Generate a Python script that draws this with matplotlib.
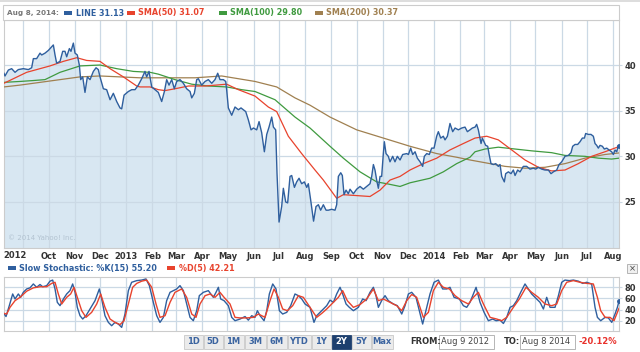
import numpy as np
import matplotlib
matplotlib.use("Agg")
import matplotlib.pyplot as plt
import matplotlib.dates as mdates
from matplotlib.patches import Rectangle
import datetime as dt

# ---------------- data ----------------
start_date = "2012-08-09"
end_date = "2014-08-08"

price_days = [0, 1.3, 5.3, 9.2, 13.2, 17.1, 23.0, 29.0, 32.9, 34.9, 38.8, 42.8, 44.8, 48.7, 52.7, 56.6,
              58.6, 60.6, 62.5, 66.5, 69.7, 72.4, 74.4, 77.6, 79.5, 82.3, 84.3, 87.0, 89.4, 91.0, 93.4,
              96.1, 98.9, 102.1, 106.0, 109.2, 111.9, 113.9, 117.9, 121.8, 125.8, 129.7, 133.7, 137.6,
              139.6, 142.4, 147.5, 151.5, 155.4, 159.3, 163.3, 167.2, 169.2, 172.0, 175.2, 179.1,
              183.0, 187.0, 190.2, 192.9, 195.7, 198.9, 202.0, 204.8, 208.7, 212.7, 216.6, 220.6, 222.6,
              225.7, 228.5, 230.5, 234.4, 238.4, 242.3, 246.3, 250.2, 253.4, 256.1, 260.1, 262.9, 264.0,
              266.0, 270.0, 273.9, 277.9, 281.0, 283.8, 286.6, 289.7, 292.9, 295.7, 299.6, 302.4, 305.5,
              308.7, 311.5, 314.2, 317.4, 319.4, 322.1, 323.7, 326.1, 329.2, 331.2, 334.0, 336.3, 339.1,
              341.1, 344.3, 347.0, 349.8, 352.9, 356.1, 358.9, 360.8, 363.6, 367.0, 369.9, 372.7, 375.4,
              378.6, 381.8, 384.5, 388.5, 392.4, 394.4, 396.4, 399.2, 401.1, 403.1, 405.5, 408.2, 410.2,
              414.2, 418.1, 422.1, 426.0, 430.0, 433.9, 435.9, 437.9, 439.8, 441.8, 443.8, 445.8, 447.7,
              449.7, 450.9, 452.9, 455.6, 457.6, 460.8, 463.5, 466.3, 469.5, 472.6, 477.4, 479.4, 482.1,
              484.5, 487.3, 490.0, 493.2, 496.3, 498.3, 501.1, 504.2, 507.0, 509.8, 512.9, 514.9, 517.7,
              520.8, 522.8, 525.6, 528.7, 531.9, 534.7, 538.6, 542.6, 546.5, 549.3, 552.4, 555.2, 558.4,
              560.3, 562.3, 564.3, 565.5, 567.0, 569.0, 571.0, 573.4, 574.9, 577.3, 580.1, 582.9, 586.0,
              588.0, 590.0, 593.1, 594.7, 597.9, 601.0, 603.8, 605.8, 608.9, 611.7, 615.6, 619.6, 623.5,
              627.5, 630.3, 633.4, 637.4, 641.3, 645.3, 648.4, 651.2, 655.2, 657.9, 661.1, 665.0, 669.0,
              672.1, 674.1, 676.9, 680.0, 682.8, 685.6, 688.0, 689.5, 692.7, 695.8, 698.6, 700.6, 702.6,
              704.5, 706.5, 709.3, 711.6, 714.4, 717.2, 720.3, 722.3, 724.3, 726.3, 728.2, 729.0]
price_vals = [39.1, 38.8, 39.45, 39.6, 39.2, 39.5, 39.6, 39.5, 39.7, 40.7, 40.7, 41.3, 41.1, 41.3, 41.6, 42.0,
              42.2, 41.1, 40.2, 40.4, 41.5, 41.5, 40.9, 41.8, 41.5, 42.4, 41.3, 41.1, 40.0, 38.4, 38.7,
              37.0, 38.7, 38.4, 39.3, 39.7, 39.5, 38.7, 37.4, 37.3, 36.2, 36.9, 36.0, 35.3,
              35.2, 36.7, 37.1, 37.3, 37.3, 37.8, 38.5, 39.3, 38.7, 39.3, 37.6, 37.3,
              37.0, 36.0, 37.1, 38.4, 37.8, 38.4, 37.4, 38.2, 38.4, 38.0, 37.4, 37.1, 36.4,
              36.9, 38.4, 38.5, 37.8, 38.2, 38.4, 38.0, 38.4, 39.1, 38.4, 38.4, 38.2, 37.3,
              35.3, 34.5, 35.4, 35.1, 35.3, 35.1, 34.9, 34.0, 32.9, 33.1, 32.9, 33.8, 32.6,
              30.5, 32.4, 33.2, 34.3, 33.2, 32.9, 28.1, 22.8, 24.5, 26.5, 25.0, 24.9, 27.8,
              27.9, 26.6, 27.2, 27.6, 27.0, 27.2, 26.6, 27.0, 25.2, 22.9, 24.5, 24.7, 24.1,
              24.7, 24.1, 24.1, 24.2, 24.1, 24.7, 27.8, 28.2, 27.9, 25.8, 26.3, 25.9, 26.4,
              25.9, 26.4, 26.7, 26.4, 26.7, 27.0, 27.8, 29.1, 28.5, 27.4, 26.5, 27.8, 27.8,
              30.3, 31.6, 30.3, 30.0, 29.4, 30.0, 29.4, 30.0, 29.6, 30.2, 30.3, 30.2, 30.9,
              30.2, 30.5, 29.8, 29.4, 28.9, 30.0, 30.3, 30.2, 30.9, 30.9, 32.2, 32.7, 32.0,
              32.2, 31.8, 32.2, 33.6, 32.7, 33.1, 32.9, 33.1, 33.2, 32.7, 32.9, 33.1, 33.2,
              33.5, 32.9, 32.0, 31.4, 32.0, 31.6, 31.2, 31.1, 30.3, 29.2, 29.1, 29.2, 28.9,
              29.1, 27.8, 27.2, 28.1, 28.3, 28.1, 28.5, 27.9, 28.5, 28.3, 28.9, 28.9, 28.6,
              28.7, 28.6, 28.8, 28.6, 28.5, 28.5, 28.1, 28.3, 28.5, 29.1, 29.4, 30.0, 30.1,
              30.4, 31.1, 31.3, 31.3, 31.6, 32.0, 32.0, 32.5, 32.4, 32.4, 32.2, 31.4, 31.2,
              30.9, 31.2, 31.1, 30.8, 30.9, 30.7, 30.5, 30.2, 30.7, 30.5, 31.2, 31.13]

sma50_days = [0, 11.2, 27, 38.8, 54.6, 70.5, 86.3, 98.1, 113.9, 125.8, 141.6, 157.4, 161.3, 173.2, 183,
              191, 202.8, 218.6, 238.4, 264, 277.9, 297.6, 313.4, 323.3, 337.1, 352.9, 368.7,
              378.6, 394.4, 402.3, 418.1, 433.9, 445.8, 457.6, 469.5, 481.3, 497.1, 513, 528.7, 544.5,
              558.4, 572.2, 586, 601.8, 617.6, 633.4, 649.2, 665, 680.8, 696.6, 712.4, 729]
sma50_vals = [38.0, 38.5, 39.2, 39.5, 39.9, 40.4, 40.8, 40.5, 40.4, 39.6, 38.7, 37.7, 37.6, 37.6, 37.3,
              37.2, 37.4, 37.7, 37.7, 37.9, 37.3, 36.6, 35.4, 34.9, 32.2, 30.3, 28.5,
              27.4, 25.4, 25.8, 25.7, 25.6, 26.3, 27.4, 27.8, 28.5, 29.2, 29.8, 30.7, 31.4,
              32.0, 32.2, 31.8, 30.7, 29.6, 28.8, 28.4, 28.5, 29.2, 30.0, 30.5, 31.07]

sma100_days = [0, 19.1, 34.9, 48.7, 66.5, 90.2, 113.9, 133.7, 153.4, 173.2, 183,
               202.8, 222.6, 242.3, 264, 281.8, 297.6, 321.3, 345, 362.8,
               386.5, 402.3, 422.1, 441.8, 453.7, 469.5, 481.3, 505, 520.8, 536.6, 552.4,
               558.4, 570.2, 586, 605.8, 625.5, 649.2, 665, 688.7, 704.5, 720.3, 729]
sma100_vals = [38.1, 38.2, 38.3, 38.4, 39.2, 39.9, 40.0, 39.6, 39.3, 39.2, 39.0,
               38.4, 37.9, 37.7, 37.6, 37.3, 37.1, 36.2, 34.3, 33.1,
               31.1, 29.8, 28.3, 27.2, 27.0, 26.7, 27.1, 27.6, 28.3, 29.2, 29.9,
               30.5, 30.8, 31.0, 30.8, 30.6, 30.4, 30.1, 30.0, 29.8, 29.7, 29.8]

sma200_days = [0, 19.1, 42.8, 66.5, 90.2, 113.9, 137.6, 161.3, 183, 202.8, 226.5, 258.1, 277.9, 297.6,
               323.3, 345, 362.8, 386.5, 418.1, 449.7, 481.3, 513, 536.6, 552.4, 570.2, 593.9, 617.6,
               641.3, 665, 688.7, 712.4, 729]
sma200_vals = [37.6, 37.8, 38.1, 38.4, 38.7, 38.8, 38.7, 38.6, 38.6, 38.6, 38.6, 38.8, 38.5, 38.2,
               37.6, 36.4, 35.6, 34.3, 32.9, 32.0, 31.1, 30.3, 29.9, 29.6, 29.3, 28.9, 28.7,
               28.8, 29.2, 29.8, 30.2, 30.37]

k_days = [0, 2.5, 6.4, 10.4, 13.2, 17.1, 19.9, 23.0, 27.0, 30.9, 34.9, 38.8, 42.8, 46.0, 50.7, 54.6,
          57.8, 60.6, 63.3, 66.5, 70.5, 74.4, 78.3, 81.5, 84.3, 87.0, 90.2, 93.4, 97.3, 102.1, 108.0,
          113.1, 115.9, 119.8, 123.8, 127.7, 131.7, 135.6, 139.6, 143.5, 147.5, 151.4, 157.4, 163.3,
          168.4, 172.4, 177.1, 181.1, 185.0, 189.0, 192.9, 196.9, 200.8, 204.8, 208.7, 212.7, 216.6,
          220.6, 224.5, 228.5, 231.6, 236.4, 242.3, 248.2, 251.4, 254.2, 256.9, 260.9, 266.0, 270.0,
          273.9, 279.9, 285.8, 289.7, 293.7, 297.6, 300.4, 303.6, 308.3, 311.5, 314.6, 318.6, 322.5,
          326.5, 330.4, 335.2, 339.9, 345.0, 349.0, 353.0, 356.9, 362.8, 367.5, 370.7, 374.7, 378.6,
          382.6, 386.5, 390.5, 394.4, 398.4, 401.5, 405.5, 409.4, 414.2, 420.1, 425.2, 429.2, 433.9,
          437.9, 441.0, 443.8, 447.7, 451.7, 455.6, 461.6, 466.3, 471.5, 475.4, 479.4, 483.3, 488.4,
          492.4, 496.3, 501.1, 505.0, 509.8, 514.9, 520.0, 524.8, 528.7, 533.5, 539.8, 544.5, 548.5,
          552.4, 559.6, 564.3, 569.1, 574.2, 579.3, 583.3, 588.0, 592.0, 595.9, 599.9, 603.8, 607.8,
          612.5, 617.6, 621.6, 625.5, 631.5, 635.4, 639.4, 643.3, 647.3, 653.2, 657.2, 661.1, 665.0,
          670.2, 674.9, 680.9, 686.0, 690.7, 696.6, 700.6, 703.4, 707.3, 712.5, 716.4, 720.4, 724.3,
          727.1, 729.0]
k_vals = [33, 27.5, 47, 68, 59, 68, 62, 71, 77, 79, 86, 80, 85, 81, 83, 91,
          93, 77, 53, 47, 59, 68, 74, 86, 71, 44, 29, 23, 29, 41, 56,
          77, 59, 29, 17, 11, 17, 14, 8, 32, 74, 89, 92, 93,
          95, 83, 53, 29, 17, 26, 56, 71, 74, 77, 83, 74, 50,
          26, 20, 38, 65, 71, 74, 62, 71, 80, 59, 56, 47, 26,
          20, 23, 27.5, 21, 29, 26, 38, 29, 20, 38, 68, 86, 77,
          38, 32, 35, 47, 68, 65, 59, 50, 44, 17, 29, 35, 41,
          47, 57, 53, 68, 80, 68, 50, 44, 38, 44, 59, 56, 71,
          80, 65, 44, 56, 65, 56, 50, 47, 32, 47, 68, 71, 62,
          38, 14, 44, 68, 89, 93, 77, 77, 80, 62, 59, 47, 44,
          53, 80, 53, 35, 20, 23, 20, 21, 15, 26, 44, 47, 56,
          71, 86, 77, 68, 59, 53, 41, 62, 44, 44, 65, 89, 93,
          92, 93, 91, 87, 89, 86, 44, 26, 20, 26, 25, 17, 32,
          44, 55.2]

d_days = [0, 3.3, 7.2, 13.2, 19.1, 27.0, 34.9, 42.8, 50.7, 56.6, 60.6, 64.5, 68.5, 74.4, 79.1, 83.1,
          87.0, 92.2, 97.3, 104.0, 110.0, 114.7, 119.8, 125.8, 131.7, 137.6, 142.4, 147.5, 152.6,
          157.4, 163.3, 169.2, 175.2, 180.3, 185.0, 191.0, 196.9, 202.8, 210.7, 216.6, 222.6, 227.7,
          232.4, 238.4, 244.3, 250.2, 256.1, 260.9, 268.0, 273.9, 279.9, 287.8, 295.7, 301.6, 309.5,
          315.4, 320.2, 325.3, 330.4, 336.0, 342.3, 349.0, 354.9, 362.8, 370.7, 376.6, 382.6, 390.5,
          396.4, 401.5, 407.0, 414.2, 422.1, 430.0, 437.9, 443.8, 449.7, 457.6, 465.5, 471.5, 477.4,
          483.3, 489.2, 497.1, 503.1, 509.0, 514.9, 520.8, 528.0, 534.7, 542.6, 550.5, 556.4, 562.3,
          568.3, 576.2, 584.1, 590.0, 595.9, 603.8, 610.9, 618.8, 625.5, 633.4, 641.3, 649.2, 655.2,
          661.1, 667.0, 674.9, 682.8, 690.7, 698.6, 703.4, 707.3, 712.5, 718.4, 723.1, 729.0]
d_vals = [33, 32, 44, 56, 62, 73, 79, 81, 81, 87, 89, 68, 50, 62, 68, 80,
          62, 38, 26, 35, 50, 68, 44, 23, 17, 13, 20, 50, 80,
          87, 91, 93, 80, 50, 26, 29, 53, 71, 77, 62, 32, 26,
          50, 65, 68, 62, 71, 62, 50, 26, 25, 25, 26, 32, 26,
          56, 77, 62, 41, 38, 47, 65, 62, 44, 26, 33, 41, 53,
          62, 74, 56, 44, 49, 59, 77, 56, 59, 53, 47, 38, 56,
          67, 62, 26, 35, 74, 89, 80, 77, 65, 56, 50, 62, 71,
          50, 26, 23, 20, 26, 44, 59, 80, 71, 62, 50, 47, 50,
          74, 89, 92, 89, 87, 86, 62, 38, 26, 26, 20, 42.21]

month_labels = ["", "Oct", "Nov", "Dec", "2013", "Feb", "Mar", "Apr", "May", "Jun", "Jul", "Aug",
                "Sep", "Oct", "Nov", "Dec", "2014", "Feb", "Mar", "Apr", "May", "Jun", "Jul", "Aug"]
first_year_label = "2012"
price_ticks = [25, 30, 35, 40]
stoch_ticks = [20, 40, 60, 80]
range_buttons = ["1D", "5D", "1M", "3M", "6M", "YTD", "1Y", "2Y", "5Y", "Max"]
active_button = "2Y"
legend_date = "Aug 8, 2014:"
from_date_txt = "Aug 9 2012"
to_date_txt = "Aug 8 2014"
change_txt = "-20.12%"

# ---------------- styling ----------------
W, H = 640, 352
BLUE = "#2f5f9e"
RED = "#e8432d"
GREEN = "#3f9a3f"
BROWN = "#a08050"
FILL = "#d8e7f2"
GRID = "#cbd9e5"
TXT = "#333333"
FONT = "DejaVu Sans"
LEG_FS = 5.8

plt.rcParams["font.family"] = [FONT]

fig = plt.figure(figsize=(W / 100, H / 100), dpi=100)
fig.patch.set_facecolor("white")


def fx(x):
    return x / W


def fy(y):
    return 1 - y / H


t0 = mdates.date2num(dt.datetime.strptime(start_date, "%Y-%m-%d"))
t1 = mdates.date2num(dt.datetime.strptime(end_date, "%Y-%m-%d"))


def tx(days):
    return t0 + np.asarray(days, dtype=float)


month_ticks = []
for i in range(24):
    yr = 2012 + (8 + i) // 12
    mo = (8 + i) % 12 + 1
    month_ticks.append(mdates.date2num(dt.datetime(yr, mo, 1)))

L, R = 3.9, 619.0
# ---------------- main price axes ----------------
ax = fig.add_axes([fx(L), fy(248), fx(R - L), (248 - 20) / H])
ax.set_xlim(t0, t1)
ax.set_ylim(19.96, 44.93)
px_ = tx(price_days)
ax.fill_between(px_, price_vals, 0, color=FILL, lw=0, zorder=1)
for m in month_ticks:
    ax.axvline(m, color=GRID, lw=0.9, zorder=2)
for v in price_ticks:
    ax.axhline(v, color=GRID, lw=0.9, zorder=2)
ax.plot(tx(sma200_days), sma200_vals, color=BROWN, lw=0.9, zorder=3)
ax.plot(tx(sma100_days), sma100_vals, color=GREEN, lw=0.9, zorder=3)
ax.plot(tx(sma50_days), sma50_vals, color=RED, lw=0.9, zorder=3)
ax.plot(px_, price_vals, color=BLUE, lw=1.0, zorder=4)
ax.plot(px_[-1], price_vals[-1], "o", color=BLUE, ms=2.5, zorder=5)
ax.set_xticks(month_ticks)
ax.set_xticklabels(month_labels)
ax.set_yticks(price_ticks)
ax.yaxis.tick_right()
ax.tick_params(axis="y", length=2, color=GRID, pad=2, labelsize=6, labelcolor=TXT)
ax.tick_params(axis="x", length=0, pad=3, labelsize=6, labelcolor=TXT)
for lab in ax.get_xticklabels() + ax.get_yticklabels():
    lab.set_fontweight("bold")
for s in ax.spines.values():
    s.set_color("#cccccc")
    s.set_linewidth(0.8)
fig.text(fx(15), fy(255.5), first_year_label, ha="center", va="center", fontsize=6,
         fontweight="bold", color=TXT)
ax.text(0.006, 0.03, "\u00a9 2014 Yahoo! Inc.", transform=ax.transAxes, fontsize=5,
        color="#b3c3d1", ha="left", va="bottom", zorder=6)

# header legend box
fig.patches.append(Rectangle((fx(3), fy(20)), fx(616), (20 - 5) / H, transform=fig.transFigure,
                             facecolor="white", edgecolor="#cccccc", lw=0.8))
fig.patches.append(Rectangle((0, fy(1.5)), 1, 1.5 / H, transform=fig.transFigure,
                             facecolor="#dddddd", edgecolor="none"))


def legend_item(x, y, color, text, marker_x=None):
    if marker_x is not None:
        fig.patches.append(Rectangle((fx(marker_x), fy(y + 2)), fx(8), 4 / H,
                                     transform=fig.transFigure, facecolor=color, edgecolor="none"))
    fig.text(fx(x), fy(y), text, ha="left", va="center", fontsize=LEG_FS, fontweight="bold",
             color=color)


fig.text(fx(7), fy(13), legend_date, ha="left", va="center", fontsize=5.2, fontweight="bold",
         color="#777777")
legend_item(76, 13, BLUE, f"LINE {price_vals[-1]:.2f}", 64)
legend_item(138, 13, RED, f"SMA(50) {sma50_vals[-1]:.2f}", 127)
legend_item(230, 13, GREEN, f"SMA(100) {sma100_vals[-1]:.2f}", 219)
legend_item(326, 13, BROWN, f"SMA(200) {sma200_vals[-1]:.2f}", 315)

# ---------------- stochastic axes ----------------
ax2 = fig.add_axes([fx(L), fy(331), fx(R - L), (331 - 277) / H])
ax2.set_xlim(t0, t1)
ax2.set_ylim(1.5, 98.5)
for m in month_ticks:
    ax2.axvline(m, color=GRID, lw=0.9, zorder=1)
for v in stoch_ticks:
    ax2.axhline(v, color=GRID, lw=0.9, zorder=1)
ax2.plot(tx(k_days), k_vals, color=BLUE, lw=1.0, zorder=3)
ax2.plot(tx(d_days), d_vals, color=RED, lw=1.0, zorder=3)
ax2.plot(tx(k_days)[-1], k_vals[-1], "o", color=BLUE, ms=2.5, zorder=4)
ax2.set_xticks([])
ax2.set_yticks(stoch_ticks)
ax2.yaxis.tick_right()
ax2.tick_params(axis="y", length=2, color=GRID, pad=2, labelsize=6, labelcolor=TXT)
for lab in ax2.get_yticklabels():
    lab.set_fontweight("bold")
for s in ax2.spines.values():
    s.set_color("#cccccc")
    s.set_linewidth(0.8)

legend_item(19, 268, BLUE, f"Slow Stochastic: %K(15) {k_vals[-1]:.2f}", 8)
legend_item(179, 268, RED, f"%D(5) {d_vals[-1]:.2f}", 167)

# close button
fig.patches.append(Rectangle((fx(627), fy(273)), fx(10), 9 / H, transform=fig.transFigure,
                             facecolor="#f0f0f0", edgecolor="#aaaaaa", lw=0.6))
fig.text(fx(632), fy(268.5), "\u00d7", ha="center", va="center", fontsize=6, color="#444444")

# ---------------- range buttons ----------------
btn_edges = [184, 203.5, 223.5, 244.5, 266.5, 287.5, 311.5, 331.5, 351.5, 371.5, 394]
for i, lab in enumerate(range_buttons):
    x0, x1 = btn_edges[i], btn_edges[i + 1] - 1
    active = lab == active_button
    fig.patches.append(Rectangle((fx(x0), fy(349)), fx(x1 - x0), 14 / H, transform=fig.transFigure,
                                 facecolor="#1d3f6e" if active else "#ebebeb",
                                 edgecolor="#1d3f6e" if active else "#c8c8c8", lw=0.6))
    fig.text(fx((x0 + x1) / 2), fy(342), lab, ha="center", va="center", fontsize=6,
             fontweight="bold", color="white" if active else "#3b64a0")

fig.text(fx(410), fy(342), "FROM:", ha="left", va="center", fontsize=6, fontweight="bold", color=TXT)
fig.patches.append(Rectangle((fx(439), fy(349)), fx(55), 14 / H, transform=fig.transFigure,
                             facecolor="white", edgecolor="#aaaaaa", lw=0.6))
fig.text(fx(441), fy(342), from_date_txt, ha="left", va="center", fontsize=6, color="#444444")
fig.text(fx(504), fy(342), "TO:", ha="left", va="center", fontsize=6, fontweight="bold", color=TXT)
fig.patches.append(Rectangle((fx(520), fy(349)), fx(55), 14 / H, transform=fig.transFigure,
                             facecolor="white", edgecolor="#aaaaaa", lw=0.6))
fig.text(fx(522), fy(342), to_date_txt, ha="left", va="center", fontsize=6, color="#444444")
fig.text(fx(617), fy(342), change_txt, ha="right", va="center", fontsize=6, fontweight="bold",
         color="#e8302a")

fig.savefig("out.png", dpi=100, facecolor="white")
